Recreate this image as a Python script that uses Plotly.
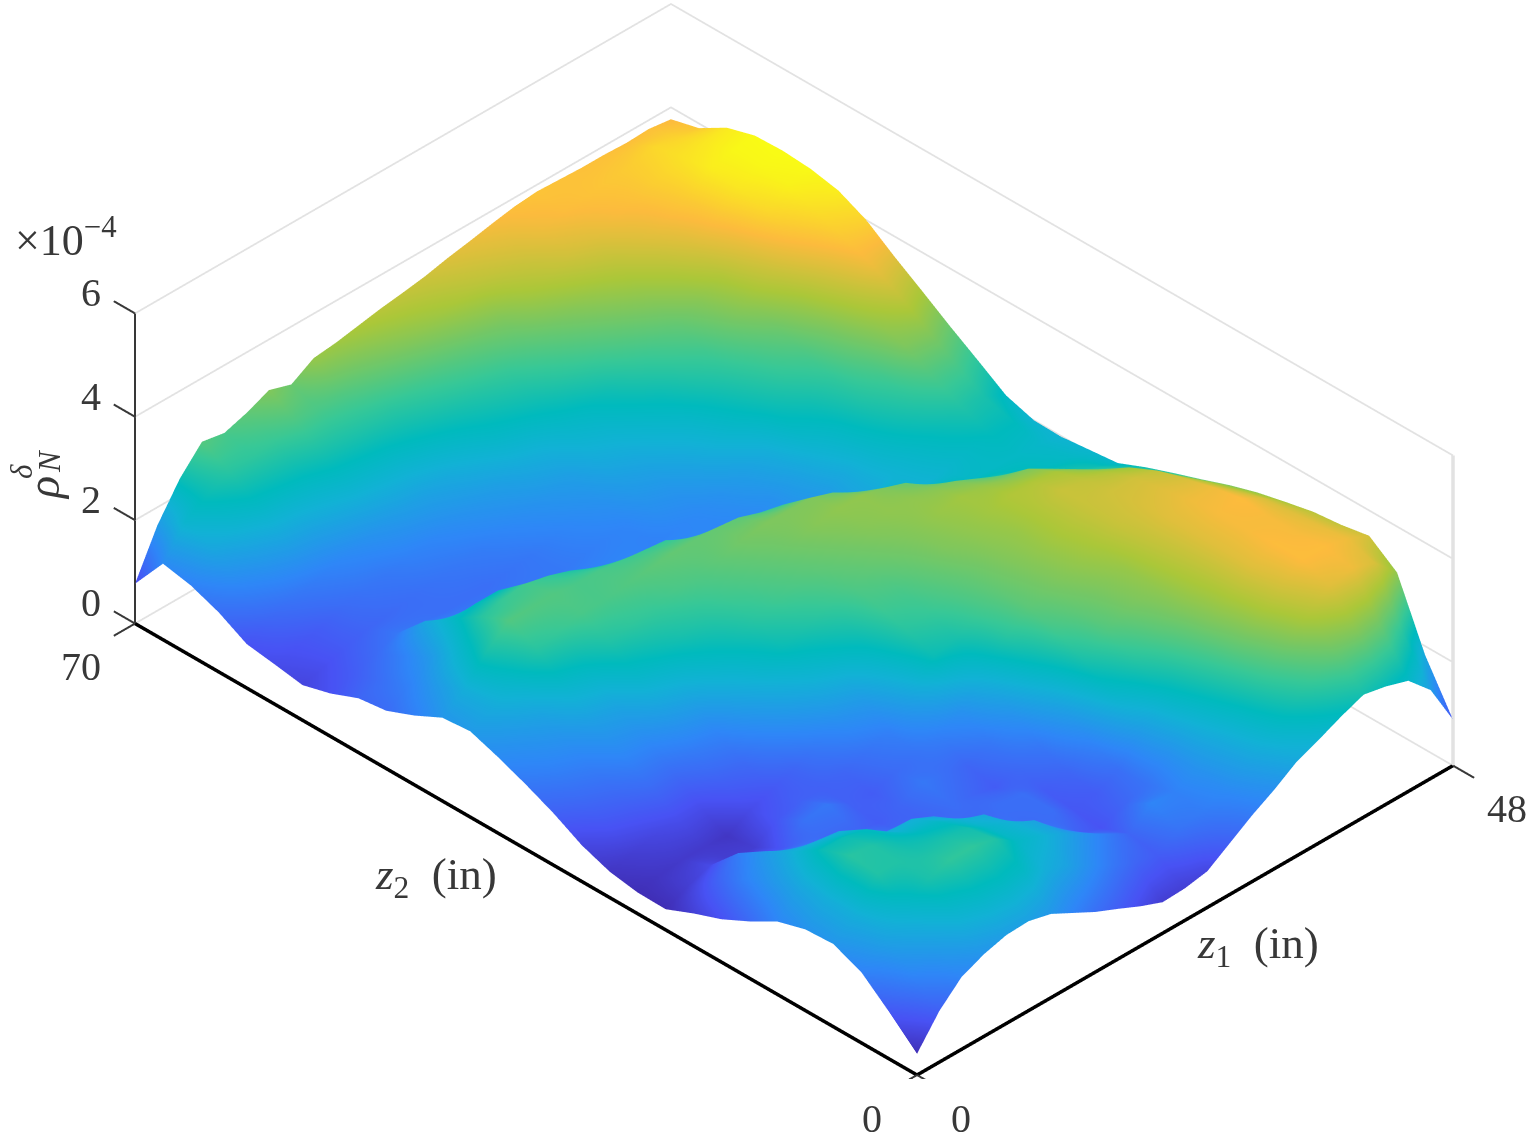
import plotly.graph_objects as go

z1_in = [0, 2, 4, 6, 8, 10, 12, 14, 16, 18, 20, 22, 24, 26, 28, 30, 32, 34, 36, 38, 40, 42, 44, 46, 48]
z2_in = [0, 2.5, 5, 7.5, 10, 12.5, 15, 17.5, 20, 22.5, 25, 27.5, 30, 32.5, 35, 37.5, 40, 42.5, 45, 47.5,
         50, 52.5, 55, 57.5, 60, 62.5, 65, 67.5, 70]
# rho (x 1e-4): one row per z1 value, one column per z2 value
rho_z1_00 = [.41,.91,1.37,1.60,1.57,1.41,1.10,.83,.63,.40,.41,.50,.70,1.00,1.25,1.47,1.66,1.61,1.34,1.12,1.05,.83,.68,.77,.85,1.15,1.36,1.47,.77]
rho_z1_02 = [.99,1.45,1.75,1.90,1.90,1.80,1.60,1.35,1.00,.60,.50,.60,.90,1.15,1.40,1.60,1.85,1.90,1.65,1.35,1.15,.95,.80,.85,1.05,1.40,1.80,2.05,1.65]
rho_z1_04 = [1.40,1.70,2.05,2.45,2.50,2.30,1.95,1.65,1.30,.75,.55,.70,1.00,1.25,1.50,1.75,2.10,2.40,2.05,1.65,1.35,1.10,.95,.95,1.20,1.60,2.00,2.30,2.30]
rho_z1_06 = [1.59,2.00,2.40,2.45,2.45,2.30,1.90,1.40,.95,.60,.55,.80,1.15,1.45,1.70,2.05,2.50,2.75,2.50,2.15,1.80,1.25,1.05,1.10,1.30,1.75,2.15,2.50,2.77]
rho_z1_08 = [1.71,2.15,2.55,2.40,2.30,2.20,1.85,1.30,.90,.60,.50,.80,1.15,1.50,1.80,2.20,2.60,2.75,2.60,2.20,1.50,1.20,1.10,1.20,1.40,1.80,2.20,2.55,2.69]
rho_z1_10 = [1.73,2.20,2.55,2.40,2.20,1.90,1.40,1.05,1.20,.90,.75,1.00,1.30,1.70,2.10,2.45,2.70,2.75,2.65,2.20,1.40,1.15,1.15,1.25,1.50,1.90,2.25,2.60,2.83]
rho_z1_12 = [1.62,2.15,2.45,2.35,2.15,1.90,1.30,1.05,1.25,1.00,.90,1.10,1.40,1.85,2.25,2.55,2.70,2.70,2.55,1.90,1.30,1.15,1.20,1.35,1.60,2.00,2.35,2.70,3.02]
rho_z1_14 = [1.39,1.90,2.15,2.10,1.95,1.70,1.10,.95,1.00,1.00,1.05,1.40,1.75,2.10,2.40,2.60,2.75,2.70,2.40,1.60,1.25,1.15,1.25,1.40,1.70,2.05,2.40,2.70,2.88]
rho_z1_16 = [1.16,1.75,2.00,1.95,1.80,1.25,1.00,1.05,.95,1.05,1.30,1.70,2.05,2.30,2.50,2.70,2.80,2.65,2.20,1.45,1.25,1.20,1.30,1.50,1.75,2.10,2.45,2.75,3.14]
rho_z1_18 = [.97,1.50,1.80,1.75,1.30,1.05,1.15,1.25,1.10,1.20,1.55,1.95,2.30,2.50,2.65,2.75,2.85,2.60,2.00,1.40,1.25,1.25,1.40,1.60,1.85,2.20,2.50,2.85,3.19]
rho_z1_20 = [.77,1.25,1.55,1.35,1.10,1.15,1.05,1.15,1.20,1.35,1.70,2.15,2.45,2.65,2.75,2.85,2.85,2.55,1.80,1.40,1.30,1.35,1.50,1.70,2.00,2.30,2.60,2.95,3.27]
rho_z1_22 = [.60,1.05,1.30,1.00,1.15,1.15,.95,1.05,1.35,1.80,2.10,2.35,2.60,2.75,2.85,2.95,2.85,2.30,1.60,1.40,1.35,1.45,1.60,1.85,2.15,2.40,2.70,3.05,3.35]
rho_z1_24 = [.62,.95,1.05,.85,.90,.95,1.10,1.25,1.55,2.30,2.50,2.65,2.75,2.85,2.95,3.00,2.80,2.20,1.55,1.35,1.40,1.55,1.70,1.95,2.25,2.50,2.80,3.15,3.41]
rho_z1_26 = [.70,1.20,1.40,1.05,.95,1.05,1.25,1.60,2.00,2.40,2.60,2.70,2.85,2.95,3.05,3.00,2.65,1.85,1.45,1.40,1.55,1.70,1.90,2.10,2.35,2.60,2.90,3.25,3.48]
rho_z1_28 = [.99,1.30,1.35,1.20,1.15,1.40,1.75,2.15,2.50,2.65,2.75,2.85,2.95,3.05,3.10,3.00,2.55,1.65,1.40,1.45,1.60,1.80,2.00,2.20,2.50,2.75,3.00,3.35,3.58]
rho_z1_30 = [1.28,1.45,1.55,1.55,1.70,2.10,2.40,2.65,2.80,2.85,2.90,3.00,3.05,3.10,3.10,2.85,2.30,1.50,1.45,1.55,1.75,1.95,2.15,2.35,2.65,2.90,3.20,3.45,3.66]
rho_z1_32 = [1.53,1.75,1.85,2.00,2.20,2.50,2.75,2.85,2.95,3.00,3.05,3.10,3.15,3.10,3.00,2.60,1.75,1.55,1.55,1.70,1.95,2.10,2.30,2.55,2.80,3.05,3.35,3.55,3.75]
rho_z1_34 = [1.82,2.05,2.20,2.40,2.60,2.80,2.95,3.00,3.10,3.15,3.15,3.20,3.20,3.05,2.85,2.20,1.75,1.65,1.75,1.90,2.15,2.30,2.50,2.70,2.95,3.20,3.50,3.70,3.83]
rho_z1_36 = [2.00,2.35,2.60,2.80,2.95,3.05,3.10,3.15,3.25,3.30,3.30,3.30,3.15,2.95,2.55,2.20,1.85,1.85,2.00,2.20,2.35,2.50,2.65,2.85,3.10,3.35,3.60,3.80,3.87]
rho_z1_38 = [2.20,2.65,2.95,3.15,3.25,3.30,3.35,3.40,3.45,3.45,3.45,3.30,3.05,2.75,2.35,1.95,2.00,2.10,2.20,2.35,2.55,2.70,2.90,3.05,3.30,3.55,3.75,3.85,3.85]
rho_z1_40 = [2.37,2.90,3.30,3.50,3.60,3.60,3.60,3.60,3.55,3.50,3.40,3.25,3.00,2.55,2.15,2.05,2.15,2.30,2.45,2.55,2.70,2.90,3.15,3.30,3.55,3.75,3.85,3.90,3.83]
rho_z1_42 = [2.28,3.00,3.60,3.80,3.80,3.75,3.75,3.70,3.60,3.50,3.30,3.05,2.75,2.30,2.15,2.15,2.30,2.50,2.65,2.85,3.00,3.20,3.45,3.65,3.85,3.95,4.00,3.95,3.83]
rho_z1_44 = [2.14,2.90,3.70,3.80,3.75,3.75,3.80,3.70,3.55,3.40,3.15,2.80,2.45,2.20,2.15,2.25,2.45,2.70,3.00,3.15,3.35,3.55,3.80,4.05,4.20,4.25,4.15,4.05,3.81]
rho_z1_46 = [1.71,2.50,3.55,3.70,3.65,3.60,3.55,3.40,3.25,3.05,2.80,2.55,2.30,2.15,2.10,2.25,2.40,2.70,3.05,3.40,3.70,3.90,4.10,4.30,4.35,4.35,4.20,4.00,3.83]
rho_z1_48 = [.89,1.83,3.11,3.51,3.41,3.35,3.23,3.10,2.93,2.73,2.54,2.34,2.11,2.05,1.99,2.00,2.17,2.53,2.88,3.25,3.61,4.00,4.26,4.37,4.41,4.39,4.23,3.91,3.77]
rho = [rho_z1_00, rho_z1_02, rho_z1_04, rho_z1_06, rho_z1_08, rho_z1_10, rho_z1_12, rho_z1_14, rho_z1_16,
       rho_z1_18, rho_z1_20, rho_z1_22, rho_z1_24, rho_z1_26, rho_z1_28, rho_z1_30, rho_z1_32, rho_z1_34,
       rho_z1_36, rho_z1_38, rho_z1_40, rho_z1_42, rho_z1_44, rho_z1_46, rho_z1_48]

z1_ticks = [0, 48]
z2_ticks = [0, 70]
rho_ticks = [0, 2, 4, 6]
Z1MAX, Z2MAX, RMAX = z1_ticks[-1], z2_ticks[-1], rho_ticks[-1]

parula = [
    [0.00, "rgb(62,38,168)"], [0.13, "rgb(72,82,244)"], [0.27, "rgb(46,135,247)"],
    [0.40, "rgb(18,177,214)"], [0.47, "rgb(0,186,190)"], [0.56, "rgb(55,200,151)"],
    [0.72, "rgb(171,199,57)"], [0.85, "rgb(252,187,61)"], [1.00, "rgb(249,251,21)"],
]

FONT = "Liberation Serif"
TXT = "#383838"
GRID = "#e2e2e2"

fig = go.Figure()
fig.add_trace(go.Surface(
    x=z1_in, y=z2_in, z=[list(c) for c in zip(*rho)],
    colorscale=parula, cmin=0.3, cmax=4.4, showscale=False,
    lighting=dict(ambient=1, diffuse=0, specular=0, fresnel=0),
    hoverinfo="skip",
))

def seg(xs, ys, zs, color, width):
    fig.add_trace(go.Scatter3d(x=xs, y=ys, z=zs, mode="lines",
                               line=dict(color=color, width=width),
                               showlegend=False, hoverinfo="skip"))

# walls: horizontal grid lines on the two back walls
for t in rho_ticks:
    seg([0, Z1MAX, Z1MAX], [Z2MAX, Z2MAX, 0], [t, t, t], GRID, 3.5)
seg([Z1MAX, Z1MAX], [0, 0], [0, RMAX], GRID, 7)
# axes
seg([0, Z1MAX], [0, 0], [0, 0], "black", 7)
seg([0, 0], [0, Z2MAX], [0, 0], "black", 7)
seg([0, 0], [Z2MAX, Z2MAX], [0, RMAX], TXT, 4)
# tick marks
TICK = 1.9
for t in rho_ticks:
    seg([0, 0], [Z2MAX, Z2MAX + TICK], [t, t], TXT, 4)
for t in z2_ticks:
    seg([0, -TICK], [t, t], [0, 0], TXT, 4)
for t in z1_ticks:
    seg([t, t], [0, -TICK], [0, 0], TXT, 4)

hidden = dict(visible=False, showgrid=False, showline=False, zeroline=False,
              showticklabels=False, ticks="", showbackground=False, showspikes=False,
              autorange=False, title=dict(text=""))

def label(text, px, py, size=40, angle=0):
    return dict(text=text, x=px / 1528, y=1 - py / 1133, xref="paper", yref="paper",
                xanchor="center", yanchor="middle", showarrow=False, textangle=angle,
                font=dict(family=FONT, size=size, color=TXT))

annotations = [
    label("×10<sup>−4</sup>", 66, 238, 44),
    label(str(rho_ticks[3]), 91, 293), label(str(rho_ticks[2]), 91, 396),
    label(str(rho_ticks[1]), 91, 499), label(str(rho_ticks[0]), 91, 602),
    label(str(z2_ticks[1]), 81, 666), label(str(z2_ticks[0]), 872, 1118),
    label(str(z1_ticks[0]), 961, 1118), label(str(z1_ticks[1]), 1507, 808),
    label("<i>z</i><sub>2</sub>  (in)", 436, 877, 45),
    label("<i>z</i><sub>1</sub>  (in)", 1258, 946, 45),
    label("<i>ρ</i>", 43, 488, 46, -90),
    label("<i>δ</i>", 22, 472, 31, -90),
    label("<i>N</i>", 50, 461, 31, -90),
]

fig.update_layout(
    width=1528, height=1133,
    margin=dict(l=0, r=0, t=0, b=0),
    paper_bgcolor="white",
    showlegend=False,
    scene=dict(
        domain=dict(x=[0.0393, 1.0], y=[0.0476, 1.0]),
        aspectmode="manual",
        aspectratio=dict(x=1.522, y=2.167, z=0.751),
        camera=dict(projection=dict(type="orthographic"),
                    eye=dict(x=-2, y=-2, z=2),
                    center=dict(x=0, y=0, z=0), up=dict(x=0, y=0, z=1)),
        xaxis=dict(hidden, range=[-2, 50]),
        yaxis=dict(hidden, range=[-2, 72]),
        zaxis=dict(hidden, range=[-0.2, 6.2]),
    ),
    annotations=annotations,
)
fig.write_html("out.html", config={"displayModeBar": False},
               post_script="document.body.style.margin='0';document.documentElement.style.overflow='hidden';")
